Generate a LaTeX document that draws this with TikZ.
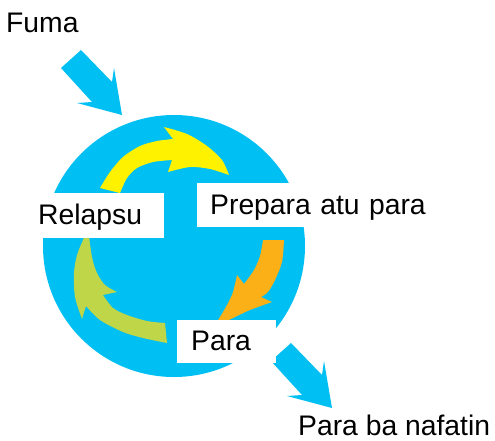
\documentclass[tikz,border=0pt]{standalone}
\usepackage{fontspec}
\setmainfont{Liberation Sans}
\usetikzlibrary{positioning}

\definecolor{ringblue}{RGB}{0,191,243}
\definecolor{cycyellow}{RGB}{255,242,0}
\definecolor{cycorange}{RGB}{251,176,23}
\definecolor{cycgreen}{RGB}{190,214,72}

\begin{document}
\begin{tikzpicture}[x=1pt,y=-1pt,
   every node/.style={font=\fontsize{28.3}{32}\selectfont},
   lbl/.style={fill=white,anchor=north west,inner ysep=0pt,text height=22pt,text depth=4pt,align=left},
   txt/.style={anchor=base west,inner sep=0pt},
   blockarrow/.pic={\fill[ringblue] (-61,-47) -- (-41,-65) -- (-10,-33) -- (-8,-47) -- (0,0) -- (-45,-12) -- (-30,-13) -- cycle;}]

   \useasboundingbox (0,0) rectangle (495,440);

   % Ring
      \node[circle,fill=ringblue,inner sep=0pt,minimum size=262pt] (ring) at (174,246) {};

   % Cycle arrows
      \fill[cycyellow] plot[smooth] coordinates {(100,188) (110,172) (123,157) (140,146) (157,141) (173,139)}
         -- (164,127) -- plot[smooth] coordinates {(164,127) (187,134) (207,146) (222,160) (229,175)}
         -- plot[smooth] coordinates {(229,175) (210,169) (190,167) (168,172)}
         -- (172,160) -- plot[smooth] coordinates {(172,160) (153,162) (137,168) (127,178) (120,193)} -- cycle;
      \fill[cycorange] plot[smooth] coordinates {(284,240) (282,262) (275,280) (268,292) (261,297)}
         -- (272,302) -- plot[smooth] coordinates {(272,302) (250,310) (233,318) (213,328)}
         -- plot[smooth] coordinates {(213,328) (220,317) (227,305) (233,292) (237,275)}
         -- (244,284) -- plot[smooth] coordinates {(244,284) (254,270) (260,256) (263,240)} -- cycle;
      \fill[cycgreen] plot[smooth] coordinates {(167,343) (143,338) (123,332) (100,320) (86,306)}
         -- (82,319) -- plot[smooth] coordinates {(82,319) (75,297) (74,273) (77,255) (83,240) (88,228)}
         -- plot[smooth] coordinates {(88,228) (92,257) (97,273) (105,285) (117,292)}
         -- (103,295) -- plot[smooth] coordinates {(103,295) (113,308) (127,315) (147,321) (165,323)} -- cycle;

   % In and out
      \pic at (122,115) {blockarrow};
      \pic at (332,408) {blockarrow};

   % Labels
      \node[lbl,inner xsep=12pt,text width=114pt,minimum height=45pt] (relapsu) at (26,193) {Relapsu};
      \node[lbl,inner xsep=13pt,text width=225pt,minimum height=44pt] (prepara) at (197,183) {Prepara atu para};
      \node[lbl,inner xsep=14pt,text width=71pt,minimum height=43pt]  (para)    at (177,320) {Para};
      \node[txt] (fuma)    at (6,32)    {Fuma};
      \node[txt] (nafatin) at (298,435.5) {Para ba nafatin};
\end{tikzpicture}
\end{document}
